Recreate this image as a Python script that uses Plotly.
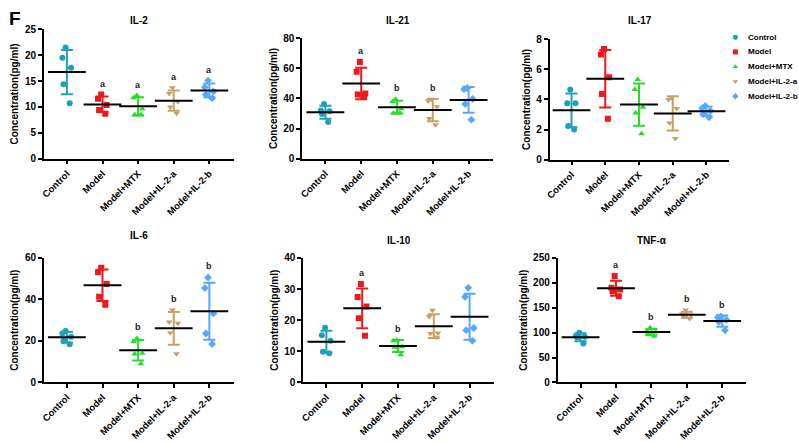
import numpy as np
import plotly.graph_objects as go

# groups shared by every panel
groups = ['Control', 'Model', 'Model+MTX', 'Model+IL-2-a', 'Model+IL-2-b']

# values, one list of 5 animals per group
il2 = [[21.5, 19.5, 17.6, 14.4, 10.7], [12.4, 11.6, 10.4, 9.4, 8.7], [12.2, 11.8, 9.6, 8.5, 8.5],
       [13.7, 12.6, 11.0, 10.0, 8.8], [15.1, 13.8, 13.0, 12.4, 11.7]]
il21 = [[36.3, 32.0, 31.5, 29.6, 24.4], [64.2, 57.7, 43.2, 42.6, 41.7], [39.4, 37.8, 33.1, 30.3, 30.3],
        [39.4, 38.3, 34.5, 26.6, 22.5], [46.9, 46.1, 39.6, 36.3, 25.9]]
il17 = [[4.65, 3.74, 3.74, 2.23, 2.01], [7.35, 6.98, 5.47, 4.35, 2.72], [5.32, 4.65, 3.48, 3.09, 1.73],
        [4.11, 4.0, 3.4, 2.44, 1.41], [3.57, 3.42, 3.24, 3.03, 2.81]]
il6 = [[24.8, 23.6, 22.0, 20.1, 18.4], [55.3, 53.1, 47.4, 41.3, 37.4], [21.2, 19.6, 14.1, 13.7, 9.0],
       [34.9, 29.1, 28.6, 24.0, 13.8], [50.6, 45.5, 33.3, 23.6, 18.5]]
il10 = [[17.6, 15.2, 13.4, 9.9, 9.4], [31.6, 27.5, 24.4, 20.6, 15.0], [13.6, 13.4, 11.5, 11.3, 8.9],
        [23.2, 21.2, 15.9, 15.7, 14.5], [30.4, 27.5, 17.5, 16.8, 13.4]]
tnf = [[100.1, 93.6, 91.6, 90.3, 78.5], [214, 190, 186.5, 183, 173], [110, 103.4, 101.4, 98.2, 93],
       [145.3, 137.4, 135.5, 133.5, 128.3], [132.5, 131, 126, 122, 104.7]]

# significance letters above each group
letters_il2 = ['', 'a', 'a', 'a', 'a']
letters_il21 = ['', 'a', 'b', 'b', '']
letters_il17 = ['', '', '', '', '']
letters_il6 = ['', '', 'b', 'b', 'b']
letters_il10 = ['', 'a', 'b', '', '']
letters_tnf = ['', 'a', 'b', 'b', 'b']

titles = ['IL-2', 'IL-21', 'IL-17', 'IL-6', 'IL-10', 'TNF-α']
y_max = [25, 80, 8, 60, 40, 250]
y_step = [5, 20, 2, 20, 10, 50]

colors = ['#1f9fba', '#f01818', '#22e022', '#c9a064', '#55a8ff']
symbols = ['circle', 'square', 'triangle-up', 'triangle-down', 'diamond']

panels = [il2, il21, il17, il6, il10, tnf]
letters = [letters_il2, letters_il21, letters_il17, letters_il6, letters_il10, letters_tnf]

# panel boxes in pixels (left, right, top, bottom) on the 799x442 page
W, H = 799, 442
boxes = [(39, 230, 24, 157), (299, 491, 33, 157), (548, 729, 34, 158),
         (39, 230, 259, 387), (300, 492, 259, 387), (556, 746, 259, 387)]

font = 'Liberation Sans, Arial, sans-serif'

fig = go.Figure()
annotations = []

for i, data in enumerate(panels):
    n = '' if i == 0 else str(i + 1)
    xref, yref = 'x' + n, 'y' + n
    for g, vals in enumerate(data):
        # individual animals, spread sideways
        fig.add_trace(go.Box(x=[groups[g]] * len(vals), y=vals, xaxis=xref, yaxis=yref,
                             boxpoints='all', jitter=0.6, pointpos=0, width=0.5,
                             fillcolor='rgba(0,0,0,0)', line=dict(color='rgba(0,0,0,0)', width=0),
                             marker=dict(color=colors[g], symbol=symbols[g], size=6),
                             showlegend=False, hoverinfo='y'))
        mean = np.mean(vals)
        sd = np.std(vals, ddof=1)
        # mean line with SD error bar
        fig.add_trace(go.Scatter(x=[groups[g]], y=[mean], xaxis=xref, yaxis=yref, mode='markers',
                                 marker=dict(symbol='line-ew', size=27, color='black',
                                             line=dict(color='black', width=2)),
                                 error_y=dict(type='data', array=[sd], color=colors[g],
                                              thickness=2, width=6),
                                 showlegend=False))
        if letters[i][g]:
            top = max(max(vals), mean + sd)
            annotations.append(dict(x=groups[g], y=top, xref=xref, yref=yref, text='<b>%s</b>' % letters[i][g],
                                    showarrow=False, yanchor='middle', yshift=11,
                                    font=dict(family=font, size=9, color='#222')))

    left, right, top_px, bottom = boxes[i]
    fig.layout['xaxis' + n] = dict(domain=[left / W, right / W], anchor=yref, type='category',
                                   categoryorder='array', categoryarray=groups, range=[-0.65, 4.68],
                                   showline=True, linecolor='black', linewidth=1.5, ticks='outside',
                                   ticklen=4, tickwidth=1.5, tickcolor='black', tickangle=-45,
                                   showgrid=False, zeroline=False,
                                   tickfont=dict(family=font, size=9.5, color='black', weight='bold'))
    fig.layout['yaxis' + n] = dict(domain=[1 - bottom / H, 1 - top_px / H], anchor=xref,
                                   range=[0, y_max[i]], dtick=y_step[i], tick0=0,
                                   showline=True, linecolor='black', linewidth=1.5, ticks='outside',
                                   ticklen=4, tickwidth=1.5, tickcolor='black', showgrid=False,
                                   zeroline=False,
                                   title=dict(text='Concentration(pg/ml)', standoff=4,
                                              font=dict(family=font, size=10, color='black', weight='bold')),
                                   tickfont=dict(family=font, size=10, color='black', weight='bold'))
    # panel title
    title_y = 15 if i < 3 else (236 if i == 3 else 241)
    annotations.append(dict(x=(left + right) / 2 / W, y=1 - title_y / H, xref='paper', yref='paper',
                            text='<b>%s</b>' % titles[i], showarrow=False, xanchor='center', yanchor='middle',
                            font=dict(family=font, size=10, color='black')))

# legend drawn by hand on a hidden full-page axis (pixel units) so it fits the narrow right strip
legend_x, legend_y0, legend_step = 735, 32, 15.2
fig.add_trace(go.Scatter(x=[legend_x] * len(groups), y=[legend_y0 + legend_step * g for g in range(len(groups))],
                         xaxis='x7', yaxis='y7', mode='markers', showlegend=False, hoverinfo='skip',
                         marker=dict(color=colors, symbol=symbols, size=5)))
fig.layout['xaxis7'] = dict(domain=[0, 1], range=[0, W], visible=False, fixedrange=True)
fig.layout['yaxis7'] = dict(domain=[0, 1], range=[H, 0], visible=False, fixedrange=True, anchor='x7')
for g in range(len(groups)):
    annotations.append(dict(x=legend_x + 11, y=legend_y0 + legend_step * g, xref='x7', yref='y7',
                            text='<b>%s</b>' % groups[g], showarrow=False, xanchor='left', yanchor='middle',
                            font=dict(family=font, size=8, color='black')))

annotations.append(dict(x=2 / W, y=1.0, xref='paper', yref='paper', text='<b>F</b>', showarrow=False,
                        xanchor='left', yanchor='top', font=dict(family=font, size=19, color='black')))

fig.update_layout(width=W, height=H, margin=dict(l=0, r=0, t=0, b=0), plot_bgcolor='rgba(0,0,0,0)',
                  paper_bgcolor='white', boxmode='overlay', annotations=annotations, showlegend=False)

# page body has an 8px default margin; drop it so the figure fills the window
fig.write_html("out.html", config={'displayModeBar': False},
               post_script="document.body.style.margin='0';")
